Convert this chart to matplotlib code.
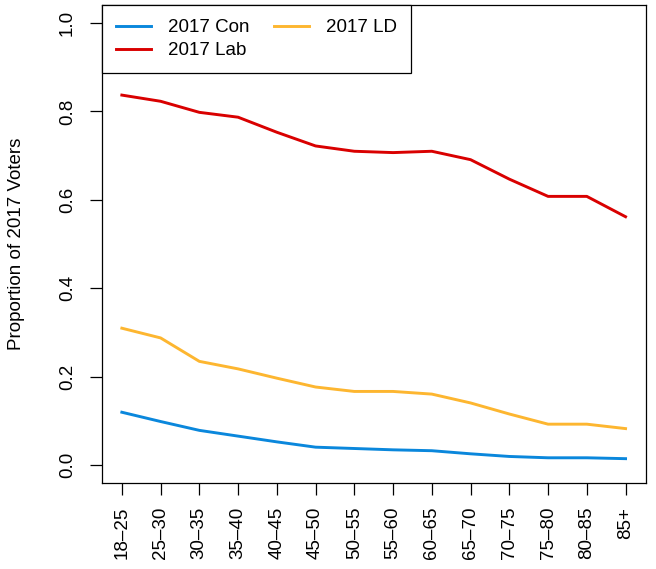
import numpy as np
import matplotlib
matplotlib.use("Agg")
import matplotlib.pyplot as plt

plt.rcParams['font.family'] = ['Liberation Sans', 'DejaVu Sans']

age_groups = ["18\u201325", "25\u201330", "30\u201335", "35\u201340", "40\u201345", "45\u201350",
              "50\u201355", "55\u201360", "60\u201365", "65\u201370", "70\u201375", "75\u201380",
              "80\u201385", "85+"]

con = [0.120, 0.099, 0.079, 0.066, 0.053, 0.041, 0.038, 0.035, 0.033, 0.026,
       0.020, 0.017, 0.017, 0.015]
lab = [0.837, 0.823, 0.798, 0.787, 0.753, 0.722, 0.710, 0.707, 0.710, 0.691,
       0.647, 0.608, 0.608, 0.562]
ld = [0.310, 0.288, 0.235, 0.218, 0.197, 0.177, 0.167, 0.167, 0.161, 0.141,
      0.116, 0.093, 0.093, 0.083]

x = np.arange(1, len(age_groups) + 1)

W, H = 656, 569
fig = plt.figure(figsize=(W / 100, H / 100), dpi=100)
ax = fig.add_axes([101.7 / W, 1 - 483 / H, (645.7 - 101.7) / W, (483 - 5.3) / H])

ax.plot(x, con, color="#0a87dc", lw=2.1, label="2017 Con")
ax.plot(x, lab, color="#d90000", lw=2.1, label="2017 Lab")
ax.plot(x, ld, color="#fdb630", lw=2.1, label="2017 LD")

ax.set_xlim(0.48, 14.52)
ax.set_ylim(-0.04, 1.04)

ax.set_xticks(x)
ax.set_xticklabels(age_groups, rotation=90, fontsize=13.5)
ax.set_yticks([0.0, 0.2, 0.4, 0.6, 0.8, 1.0])
ax.set_yticklabels(["0.0", "0.2", "0.4", "0.6", "0.8", "1.0"], rotation=90,
                   va="center", fontsize=13.5)
ax.tick_params(axis="x", length=8.6, width=0.9, pad=8.6)
ax.tick_params(axis="y", length=8.6, width=0.9, pad=10)

for s in ax.spines.values():
    s.set_linewidth(0.9)

ax.set_ylabel("Proportion of 2017 Voters", fontsize=13.5)
ax.yaxis.set_label_coords(-(101.7 - 25) / (645.7 - 101.7), 0.5)

leg = ax.legend(loc="upper left", bbox_to_anchor=(0, 1), borderaxespad=0, ncol=2,
                fontsize=13.5, frameon=True, fancybox=False, framealpha=1,
                edgecolor="black", handlelength=1.87, handletextpad=0.9,
                columnspacing=1.3, borderpad=0.75, labelspacing=0.3)
leg.get_frame().set_linewidth(0.9)

fig.savefig("out.png", dpi=100)
